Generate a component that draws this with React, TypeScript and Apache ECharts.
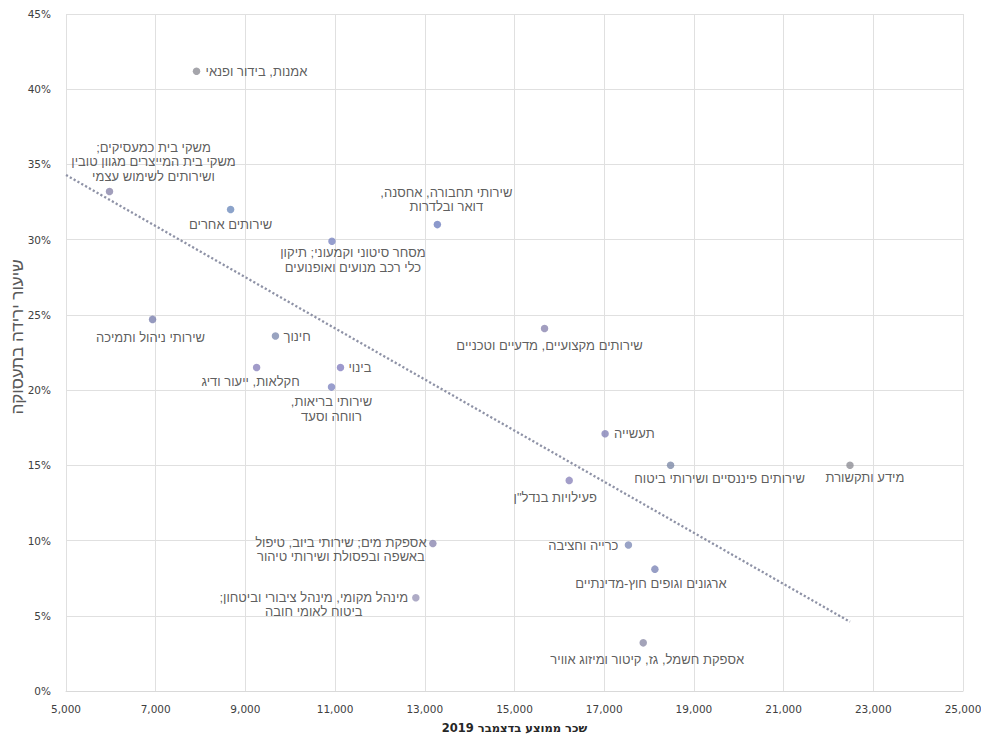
import React, { useEffect, useRef } from "react";
import * as echarts from "echarts";

const industries: string[] = [
  "אמנות, בידור ופנאי",
  "משקי בית כמעסיקים;\nמשקי בית המייצרים מגוון טובין\nושירותים לשימוש עצמי",
  "שירותים אחרים",
  "מסחר סיטוני וקמעוני; תיקון\nכלי רכב מנועים ואופנועים",
  "שירותי תחבורה, אחסנה,\nדואר ובלדרות",
  "שירותי ניהול ותמיכה",
  "חינוך",
  "חקלאות, ייעור ודיג",
  "בינוי",
  "שירותי בריאות,\nרווחה וסעד",
  "שירותים מקצועיים, מדעיים וטכניים",
  "תעשייה",
  'פעילויות בנדל"ן',
  "שירותים פיננסיים ושירותי ביטוח",
  "מידע ותקשורת",
  "אספקת מים; שירותי ביוב, טיפול\nבאשפה ובפסולת ושירותי טיהור",
  "מינהל מקומי, מינהל ציבורי וביטחון;\nביטוח לאומי חובה",
  "כרייה וחציבה",
  "ארגונים וגופים חוץ-מדינתיים",
  "אספקת חשמל, גז, קיטור ומיזוג אוויר",
];

const wages: number[] = [
  7910, 5970, 8670, 10930, 13280, 6930, 9670, 9250, 11120, 10920,
  15670, 17020, 16220, 18480, 22480, 13180, 12800, 17540, 18130, 17870,
];

const declines: number[] = [
  41.2, 33.2, 32.0, 29.9, 31.0, 24.7, 23.6, 21.5, 21.5, 20.2,
  24.1, 17.1, 14.0, 15.0, 15.0, 9.8, 6.2, 9.7, 8.1, 3.2,
];

const trendX: number[] = [5000, 22480];
const trendY: number[] = [34.3, 4.6];

const xTicks = { min: 5000, max: 25000, step: 2000 };
const yTicks = { min: 0, max: 45, step: 5 };

const xTitle = "שכר ממוצע בדצמבר 2019";
const yTitle = "שיעור ירידה בתעסוקה";

// label placement: [align, dx, dy] relative to the dot centre
const placement: [string, number, number][] = [
  ["left", 9, 0],
  ["center", 44, -30],
  ["center", 0, 15],
  ["center", 21, 19],
  ["center", 9, -25],
  ["center", -2, 18],
  ["left", 8, 1],
  ["center", -6, 14],
  ["left", 8, 0],
  ["center", 0, 22],
  ["center", 5, 17],
  ["left", 9, 0],
  ["center", -14, 17],
  ["center", 49, 13],
  ["center", 15, 12],
  ["center", -92, 6],
  ["center", -102, 7],
  ["right", -10, 0],
  ["center", -4, 14],
  ["center", 4, 17],
];

const dotColors: string[] = [
  "#8f8f96", "#8a86aa", "#6f8cbd", "#7b86c2", "#6f7fbf",
  "#7b7fae", "#7f8cb0", "#8a82bb", "#8580c0", "#7f86c0",
  "#8b86b0", "#8583b8", "#8c86bb", "#7d8aa8", "#8f8f96",
  "#8b87b0", "#9a96b8", "#7f8cb8", "#7d86b6", "#8c8ca8",
];

const rtl = (s: string) =>
  s
    .split("\n")
    .map((l) => "\u202B" + l + "\u202C")
    .join("\n");

export default function App() {
  const ref = useRef<HTMLDivElement>(null);

  useEffect(() => {
    if (!ref.current) return;
    const chart = echarts.init(ref.current, null, { renderer: "svg" });

    const points = industries.map((name, i) => {
      const [align, dx, dy] = placement[i];
      return {
        name,
        value: [wages[i], declines[i]],
        itemStyle: { color: dotColors[i] },
        label: {
          show: true,
          position: "inside",
          align,
          verticalAlign: "middle",
          offset: [dx, dy],
          formatter: () => rtl(name),
        },
      };
    });

    chart.setOption({
      animation: false,
      backgroundColor: "#ffffff",
      grid: {
        left: 66,
        right: 18,
        top: 14,
        bottom: 45,
        containLabel: false,
        outerBoundsMode: "none",
      },
      graphic: [
        {
          type: "text",
          x: 17,
          y: 337,
          rotation: Math.PI / 2,
          silent: true,
          style: {
            text: rtl(yTitle),
            fontFamily: "Liberation Sans",
            fontSize: 17,
            fill: "#595959",
            align: "center",
            verticalAlign: "middle",
          },
        },
      ],
      xAxis: {
        type: "value",
        min: xTicks.min,
        max: xTicks.max,
        interval: xTicks.step,
        name: rtl(xTitle),
        nameLocation: "middle",
        nameGap: 31,
        nameTextStyle: {
          fontFamily: "DejaVu Sans",
          fontWeight: "bold",
          fontSize: 11.5,
          color: "#262626",
        },
        axisLine: { show: true, lineStyle: { color: "#d9d9d9", width: 1 } },
        axisTick: { show: false },
        axisLabel: {
          margin: 12,
          fontFamily: "DejaVu Sans",
          fontSize: 10.5,
          color: "#404040",
          formatter: (v: number) => v.toLocaleString("en-US"),
        },
        splitLine: { show: true, lineStyle: { color: "#e0e0e0", width: 1 } },
      },
      yAxis: {
        type: "value",
        min: yTicks.min,
        max: yTicks.max,
        interval: yTicks.step,
        axisLine: { show: false },
        axisTick: { show: false },
        axisLabel: {
          margin: 15,
          fontFamily: "DejaVu Sans",
          fontSize: 10.5,
          color: "#404040",
          formatter: (v: number) => v + "%",
        },
        splitLine: { show: true, lineStyle: { color: "#e0e0e0", width: 1 } },
      },
      series: [
        {
          type: "line",
          data: trendX.map((x, i) => [x, trendY[i]]),
          showSymbol: false,
          symbol: "none",
          silent: true,
          z: 1,
          lineStyle: {
            color: "#8e92a6",
            width: 2.3,
            type: [2.2, 2.2],
            cap: "butt",
          },
        },
        {
          type: "scatter",
          data: points,
          symbolSize: 7.5,
          z: 3,
          label: {
            fontFamily: "Liberation Sans",
            fontSize: 13,
            lineHeight: 14.5,
            color: "#333333",
          },
        },
      ],
    });

    return () => chart.dispose();
  }, []);

  return (
    <div
      ref={ref}
      style={{ position: "fixed", left: 0, top: 0, width: 981, height: 736 }}
    />
  );
}
